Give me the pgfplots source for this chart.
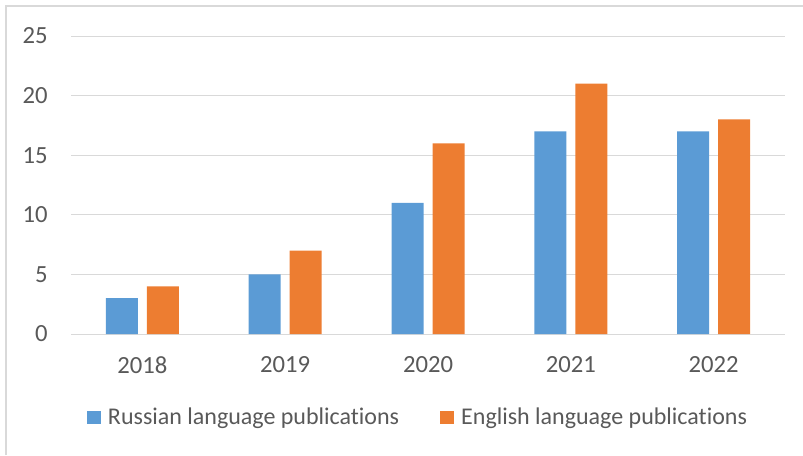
\documentclass[border=0pt]{standalone}
\usepackage{pgfplots}
\pgfplotsset{compat=1.18}
\usepackage{fontspec}
\setmainfont{Carlito}[Ligatures=NoCommon]
\definecolor{gridgray}{HTML}{D9D9D9}
\definecolor{txtgray}{HTML}{595959}
\definecolor{cblue}{HTML}{5B9BD5}
\definecolor{corange}{HTML}{ED7D31}
\begin{document}
\begin{tikzpicture}
\useasboundingbox (0,0) rectangle (602.25pt,341.25pt);
\draw[gridgray, line width=1.5pt] (4.5pt,0pt) -- (4.5pt,336.75pt) -- (602.25pt,336.75pt);
\begin{axis}[
  at={(53.25pt,90.75pt)}, anchor=south west,
  scale only axis, width=535.5pt, height=223.5pt,
  ybar=6.75pt, bar width=24pt,
  xmin=-0.5, xmax=4.5, ymin=0, ymax=25,
  xtick={0,1,2,3,4}, xticklabels={2018,2019,2020,2021,2022},
  ytick={0,5,10,15,20,25},
  ymajorgrids, grid style={gridgray, line width=0.75pt},
  axis x line*=bottom, axis y line*=left,
  x axis line style={gridgray, line width=0.75pt, -},
  y axis line style={draw=none},
  major tick length=0pt,
  tick label style={font=\fontsize{18.5}{22}\selectfont, text=txtgray},
  /pgf/number format/assume math mode=true,
  yticklabel style={anchor=east, inner sep=0pt, xshift=-17.25pt},
  xticklabel style={anchor=center, inner sep=0pt, yshift=-23.25pt},
  legend columns=2,
  legend style={at={(0.0224,-0.2802)}, anchor=west, draw=none, fill=none,
    inner sep=0pt, outer sep=0pt, font=\fontsize{18}{22}\selectfont, text=txtgray,
    nodes={inner sep=0pt},
    /tikz/every even column/.append style={column sep=30.75pt}},
]
\addplot[fill=cblue, draw=none,
  legend image code/.code={\fill[cblue] (0pt,-4.875pt) rectangle (10.5pt,4.875pt); \path (15.75pt,0pt);}]
  coordinates {(0,3) (1,5) (2,11) (3,17) (4,17)};
\addplot[fill=corange, draw=none,
  legend image code/.code={\fill[corange] (0pt,-4.875pt) rectangle (10.5pt,4.875pt); \path (15.75pt,0pt);}]
  coordinates {(0,4) (1,7) (2,16) (3,21) (4,18)};
\legend{Russian language publications, English language publications}
\end{axis}
\end{tikzpicture}
\end{document}
